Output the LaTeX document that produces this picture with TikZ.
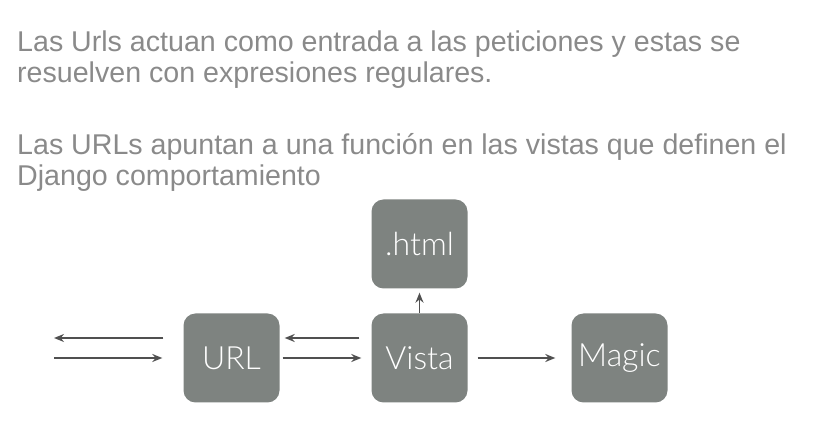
\documentclass[tikz,border=0pt]{standalone}
\usepackage{fontspec}
\setmainfont{Liberation Sans}
\newfontfamily\boxfont{Lato Light}
\usetikzlibrary{arrows.meta}

\definecolor{boxgray}{HTML}{7E8380}
\definecolor{txtgray}{HTML}{8A8A8A}
\definecolor{arrowgray}{HTML}{505050}

\tikzset{
  box/.style={rectangle, rounded corners=12pt, fill=boxgray, minimum width=96pt,
    minimum height=89pt, text=white, font=\boxfont\fontsize{32}{32}\selectfont},
  flow/.style={draw=arrowgray, line width=1.6pt, -{Stealth[length=10pt,width=8pt]}},
  para/.style={anchor=base west, inner sep=0pt, text=txtgray,
    font=\fontsize{28.6}{32}\selectfont}
}

\begin{document}
\begin{tikzpicture}[x=1pt,y=-1pt]
\useasboundingbox (0,0) rectangle (815,443);

% text
\node[para] (line1) at (17,52) {Las Urls actuan como entrada a las peticiones y estas se};
\node[para] (line2) at (17,83) {resuelven con expresiones regulares.};
\node[para] (line3) at (17,155) {Las URLs apuntan a una función en las vistas que definen el};
\node[para] (line4) at (17,186) {Django comportamiento};

% boxes
\node[box] (url) at (231.5,358) {URL};
\node[box] (vista) at (419.5,358) {Vista};
\node[box] (html) at (419.5,244) {.html};
\node[box] (magic) at (619.5,358) {Magic};

% free ends
\coordinate (outL) at (54,338);
\coordinate (inL) at (54,358);

% arrows
\draw[flow, shorten <=20pt] ([yshift=20pt]url.west) -- (outL);
\draw[flow, shorten >=21pt] (inL) -- (url.west);
\draw[flow, shorten <=12pt, shorten >=5pt] ([yshift=20pt]vista.west) -- ([yshift=20pt]url.east);
\draw[flow, shorten <=3pt, shorten >=10pt] (url.east) -- (vista.west);
\draw[flow, shorten >=4pt] (vista.north) -- (html.south);
\draw[flow, shorten <=10pt, shorten >=16pt] (vista.east) -- (magic.west);
\end{tikzpicture}
\end{document}
